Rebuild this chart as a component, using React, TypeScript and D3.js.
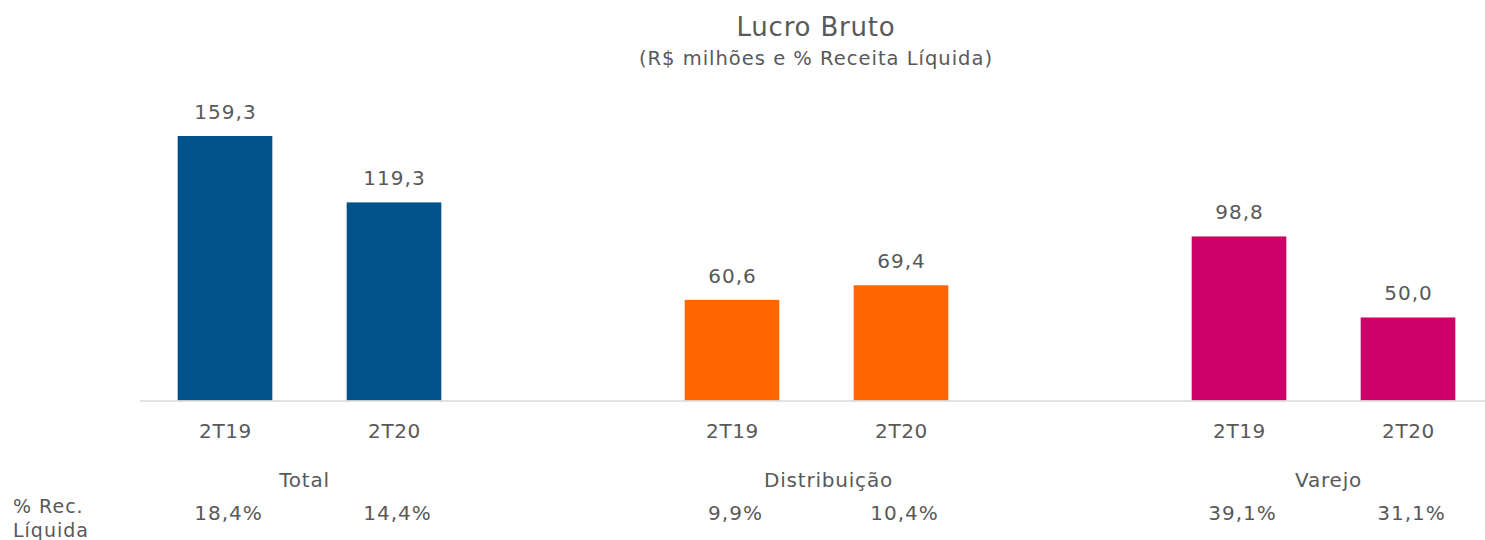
import React from "react";
import * as d3 from "d3";

const groups = ["Total", "Distribuição", "Varejo"];
const periods = ["2T19", "2T20"];
const values = [
  [159.3, 119.3],
  [60.6, 69.4],
  [98.8, 50.0],
];
const valueLabels = [
  ["159,3", "119,3"],
  ["60,6", "69,4"],
  ["98,8", "50,0"],
];
const pctLabels = [
  ["18,4%", "14,4%"],
  ["9,9%", "10,4%"],
  ["39,1%", "31,1%"],
];
const colors = ["#00528A", "#FF6600", "#CC0066"];

const W = 1485;
const H = 540;
const TEXT = "#595959";
const FONT = "'DejaVu Sans', sans-serif";
const groupLabelNudge = [-5, 12, 5];

export default function App() {
  // slots: 2 bars per group, with an empty slot between groups
  const slots: string[] = [];
  groups.forEach((g, gi) => {
    periods.forEach((p) => slots.push(`${g}|${p}`));
    if (gi < groups.length - 1) slots.push(`gap${gi}`);
  });
  const x = d3
    .scaleBand<string>()
    .domain(slots)
    .range([140.5, 1492.5])
    .paddingInner(0.44)
    .paddingOuter(0.22);
  const y = d3.scaleLinear().domain([0, 159.3]).range([400.5, 136]);

  const bars = groups.flatMap((g, gi) =>
    periods.map((p, pi) => ({
      key: `${g}|${p}`,
      g,
      gi,
      p,
      pi,
      v: values[gi][pi],
      label: valueLabels[gi][pi],
      pct: pctLabels[gi][pi],
    }))
  );

  const center = (k: string) => (x(k) as number) + x.bandwidth() / 2;
  const ls = 1;

  return (
    <svg
      width={W}
      height={H}
      style={{ position: "absolute", left: 0, top: 0, background: "#fff" }}
      fontFamily={FONT}
    >
      <text x={816} y={36} textAnchor="middle" fontSize={26} fill={TEXT} letterSpacing={0.8}>
        Lucro Bruto
      </text>
      <text x={816} y={65} textAnchor="middle" fontSize={19.5} fill={TEXT} letterSpacing={1}>
        (R$ milhões e % Receita Líquida)
      </text>

      {bars.map((b) => (
        <g key={b.key}>
          <rect
            x={x(b.key)}
            y={y(b.v)}
            width={x.bandwidth()}
            height={y(0) - y(b.v)}
            fill={colors[b.gi]}
          />
          <text
            x={center(b.key) + 0.5}
            y={y(b.v) - 17}
            textAnchor="middle"
            fontSize={20}
            fill={TEXT}
            letterSpacing={ls}
          >
            {b.label}
          </text>
          <text
            x={center(b.key) + 0.5}
            y={438}
            textAnchor="middle"
            fontSize={20}
            fill={TEXT}
            letterSpacing={0.6}
          >
            {b.p}
          </text>
          <text
            x={center(b.key) + 3.5}
            y={520}
            textAnchor="middle"
            fontSize={20}
            fill={TEXT}
            letterSpacing={ls}
          >
            {b.pct}
          </text>
        </g>
      ))}

      <line x1={140} x2={W} y1={401} y2={401} stroke="#D9D9D9" strokeWidth={1.5} />

      {groups.map((g, gi) => {
        const c = (center(`${g}|2T19`) + center(`${g}|2T20`)) / 2;
        return (
          <text
            key={g}
            x={c + groupLabelNudge[gi]}
            y={487}
            textAnchor="middle"
            fontSize={20}
            fill={TEXT}
            letterSpacing={0.8}
          >
            {g}
          </text>
        );
      })}

      <text x={13} y={513} fontSize={19} fill={TEXT} letterSpacing={1}>
        % Rec.
      </text>
      <text x={13} y={537} fontSize={19} fill={TEXT} letterSpacing={1}>
        Líquida
      </text>
    </svg>
  );
}
